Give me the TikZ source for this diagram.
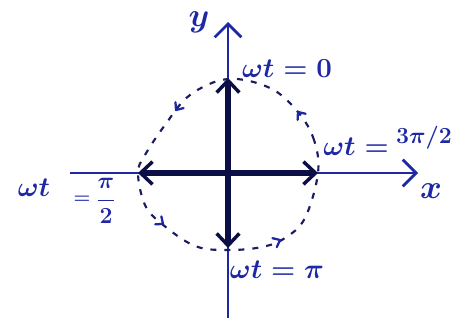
\documentclass[tikz,border=0pt]{standalone}
\usetikzlibrary{arrows.meta}
\definecolor{ink}{RGB}{30,40,165}
\definecolor{darkink}{RGB}{12,14,70}
\definecolor{dashc}{RGB}{25,28,95}
\tikzset{
  axisline/.style={ink, line width=2.1pt, -{Straight Barb[length=10pt,width=20pt,line width=2pt]}},
  vec/.style={darkink, line width=4.2pt, -{Straight Barb[length=9pt,width=17pt,line width=2.6pt]}},
  orbit/.style={dashc, line width=1.6pt, dash pattern=on 4.5pt off 6pt},
  chead/.style={ink, line width=1.7pt, line cap=round, line join=round},
  lbl/.style={ink, inner sep=0pt, font=\fontsize{21}{25}\selectfont\boldmath},
  slbl/.style={ink, inner sep=0pt, font=\fontsize{16}{19}\selectfont\boldmath},
}
\begin{document}
\begin{tikzpicture}[x=0.75pt, y=-0.75pt]
\useasboundingbox (0,0) rectangle (452,320);
% key points
\coordinate (O) at (228,173);
\coordinate (T) at (228,78);
\coordinate (B) at (228,248);
\coordinate (L) at (138,173);
\coordinate (R) at (318,173);
\coordinate (yb) at (228,318);
\coordinate (yt) at (228,22);
\coordinate (xl) at (70,173);
\coordinate (xr) at (418,173);
% axes
\draw[axisline] (yb) -- (yt);
\draw[axisline] (xl) -- (xr);
% phasor arrows
\draw[vec] (O) -- (T);
\draw[vec] (O) -- (B);
\draw[vec] (O) -- (L);
\draw[vec] (O) -- (R);
% dashed orbit
\draw[orbit] plot[smooth cycle, tension=0.6] coordinates {
  (318,173) (314,140) (298,112) (270,88) (228,79) (190,95) (165,125)
  (145,155) (138,173) (145,205) (162,224) (195,246) (228,250)
  (262,247) (285,238) (305,218)};
% arrowheads on orbit
\draw[chead, shift={(298,112)}, rotate=127] (-6,-5) -- (0,0) -- (-6,5);
\draw[chead, shift={(176,110)}, rotate=234] (-6,-5) -- (0,0) -- (-6,5);
\draw[chead, shift={(163,224)}, rotate=-38] (-6,-5) -- (0,0) -- (-6,5);
\draw[chead, shift={(280,240)}, rotate=26] (-6,-5) -- (0,0) -- (-6,5);
% labels
\node[lbl, font=\fontsize{23}{26}\selectfont\boldmath] (ly) at (199,22) {$y$};
\node[lbl, font=\fontsize{26}{29}\selectfont\boldmath] (lx) at (431,191) {$x$};
\node[lbl] (l0) at (287,69) {$\omega t=0$};
\node[lbl] (l3a) at (356,147) {$\omega t =$};
\node[slbl] (l3b) at (424,138) {$3\pi/2$};
\node[lbl] (l1a) at (34,188) {$\omega t$};
\node[ink, inner sep=0pt, font=\fontsize{14}{16}\selectfont\boldmath] (l1b) at (82,200) {$=$};
\node[ink, inner sep=0pt, font=\fontsize{19}{23}\selectfont\boldmath] (l1c) at (106,201) {$\displaystyle\frac{\pi}{2}$};
\node[lbl] (lpi) at (277,270) {$\omega t = \pi$};
\end{tikzpicture}
\end{document}
